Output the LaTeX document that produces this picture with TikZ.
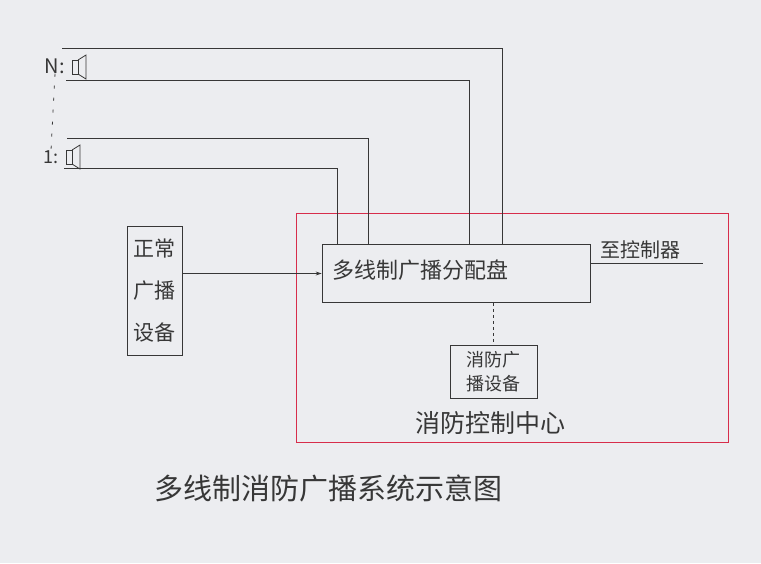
\documentclass[tikz,border=0pt]{standalone}
\usepackage{fontspec}
\setmainfont{Noto Sans CJK SC}
\usetikzlibrary{arrows.meta}
\definecolor{pencil}{RGB}{55,55,55}
\definecolor{redpen}{RGB}{215,45,75}
\definecolor{paper}{RGB}{236,237,240}
\tikzset{
  box/.style={draw=pencil, line width=0.8pt, inner sep=0pt},
  wire/.style={draw=pencil, line width=0.8pt},
  hand/.style={text=pencil, inner sep=0pt},
  spk/.pic={
    \draw[wire] (-3,-7) rectangle (3,7);
    \draw[wire] (3,-7) -- (11,-12) -- (11,12) -- (3,7);
  }
}
\begin{document}
\begin{tikzpicture}[x=1pt,y=-1pt]
\fill[paper] (0,0) rectangle (761,563);
\useasboundingbox (0,0) rectangle (761,563);

% speakers
\pic at (75,67) {spk};
\pic at (69,157) {spk};
\node[hand, font=\fontsize{20}{20}\selectfont] (labN) at (55,66) {N:};
\node[hand, font=\fontsize{18}{18}\selectfont] (labA) at (51,157) {1:};
\draw[wire, dash pattern=on 3pt off 9pt] (labN.south) -- (labA.north);

% boxes
\node[box, minimum width=268, minimum height=58] (panel) at (456,273.5) {};
\node[hand, font=\fontsize{22}{22}\selectfont] (panellab) at (420,270) {多线制广播分配盘};
\node[box, minimum width=55, minimum height=129, align=center, hand,
      font=\fontsize{21}{42}\selectfont] (normal) at (154.5,290.5) {正常\\广播\\设备};
\node[box, minimum width=87, minimum height=53, align=center, hand,
      font=\fontsize{18}{24}\selectfont] (fire) at (493.5,371.5) {消防广\\播设备};
\node[draw=redpen, line width=1pt, minimum width=432, minimum height=229] (centre) at (512,327.5) {};
\node[hand, font=\fontsize{25}{25}\selectfont] (centrelab) at (490,423) {消防控制中心};

% speaker lines into the panel
\coordinate (nTop) at (62,48);
\coordinate (nBot) at (66,80);
\coordinate (aTop) at (67,138);
\coordinate (aBot) at (64,168);
\path (panel.north west) ++(16,0) coordinate (p1) ++(31,0) coordinate (p2)
      ++(101,0) coordinate (p3) ++(33,0) coordinate (p4);
\draw[wire] (nTop) -| (p4);
\draw[wire] (nBot) -| (p3);
\draw[wire] (aTop) -| (p2);
\draw[wire] (aBot) -| (p1);

\draw[wire, -{Stealth[length=6pt,width=4pt]}] (normal.east |- panel.west) -- (panel.west);
\draw[wire, dashed] (fire.north |- panel.south) -- (fire.north);

% to controller
\draw[wire] ([yshift=10.5pt]panel.east) -- ++(113,0) coordinate (ctrl);
\node[hand, font=\fontsize{20}{20}\selectfont, anchor=south west] (ctrllab) at ([xshift=10pt,yshift=4pt]panel.east |- ctrl) {至控制器};

\node[hand, font=\fontsize{29}{29}\selectfont] (title) at (328,488) {多线制消防广播系统示意图};
\end{tikzpicture}
\end{document}
